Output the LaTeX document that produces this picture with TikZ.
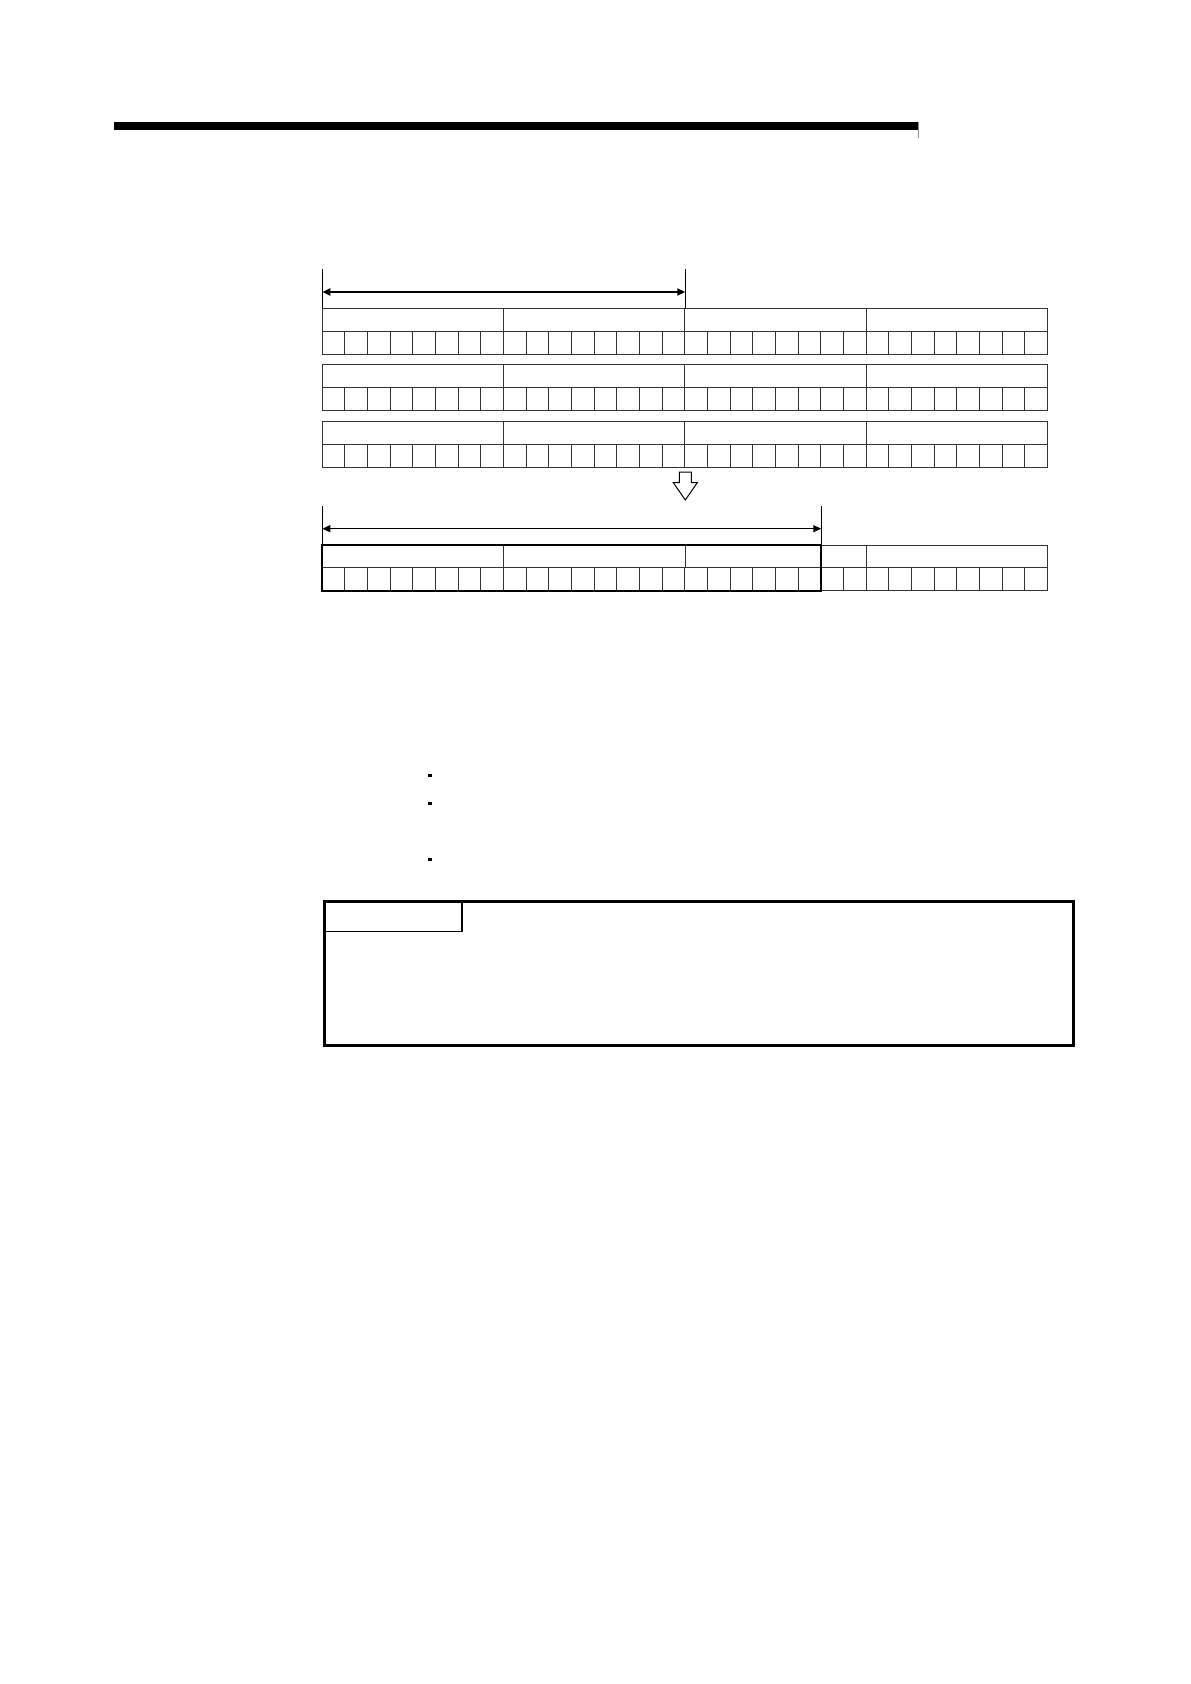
\documentclass[tikz,border=0pt]{standalone}
\usetikzlibrary{arrows.meta}
\tikzset{
  cell/.style={draw=black!80,line width=0.5pt},
  tick/.style={draw=black,line width=0.5pt},
  dimarrow/.style={draw=black,line width=0.9pt,{Triangle[length=4pt,width=3.5pt]}-{Triangle[length=4pt,width=3.5pt]}},
  dimarrowthin/.style={draw=black,line width=0.5pt,{Triangle[length=4pt,width=3.5pt]}-{Triangle[length=4pt,width=3.5pt]}},
  bullet/.style={fill=black},
  frame/.style={draw=black,line width=1.5pt},
}
\begin{document}
\begin{tikzpicture}[x=0.5pt,y=-0.5pt]
\useasboundingbox (0,0) rectangle (1190,1684);
% header bar
\fill (114,122) rectangle (918.3,130);
\draw[black!45,line width=0.5pt] (918.5,122) -- (918.5,138);
% three source rows
\foreach \t in {308.7,365,421.7} {
  \draw[cell] (322.3,\t) rectangle (1047.7,\t+45.5);
  \draw[cell] (322.3,\t+22.5) -- (1047.7,\t+22.5);
  \foreach \i in {1,...,31} \draw[cell] (322.3+\i*22.667,\t+22.5) -- ++(0,23);
  \foreach \i in {1,2,3} \draw[cell] (322.3+\i*181.33,\t) -- ++(0,22.5);
}
% top dimension arrow
\coordinate (tA) at (322.3,292);
\coordinate (tB) at (685.3,292);
\draw[tick] (322.3,269) -- (322.3,308.7);
\draw[tick] (685.3,269) -- (685.3,308.7);
\draw[dimarrow] (tA) -- (tB);
% hollow down arrow
\draw[black,line width=0.5pt,fill=white] (679.3,472) -- (691.3,472) -- (691.3,482.7) -- (697.3,482.7) -- (685.3,500) -- (673.3,482.7) -- (679.3,482.7) -- cycle;
% result row
\draw[cell] (322.3,545) rectangle (1047.7,590.7);
\draw[cell] (322.3,567.3) -- (1047.7,567.3);
\foreach \i in {1,...,31} \draw[cell] (322.3+\i*22.667,567.3) -- ++(0,23.4);
\foreach \x in {503.6,685,866.3} \draw[cell] (\x,545) -- (\x,567.3);
\draw[black,line width=1pt] (322.3,545) rectangle (821.3,590.7);
% bottom dimension arrow
\coordinate (bA) at (322.3,528.7);
\coordinate (bB) at (821.3,528.7);
\draw[tick] (322.3,506) -- (322.3,545);
\draw[tick] (821.3,506) -- (821.3,545);
\draw[dimarrowthin] (bA) -- (bB);
% bullets
\fill[bullet] (428.3,774) rectangle (432.3,777);
\fill[bullet] (428.3,802) rectangle (432.3,805);
\fill[bullet] (428.3,858) rectangle (432.3,861);
% framed box
\draw[frame] (324.5,901.7) rectangle (1073.5,1045);
\draw[black,line width=0.6pt] (324.5,901.7) rectangle (462,931.7);
\end{tikzpicture}
\end{document}
